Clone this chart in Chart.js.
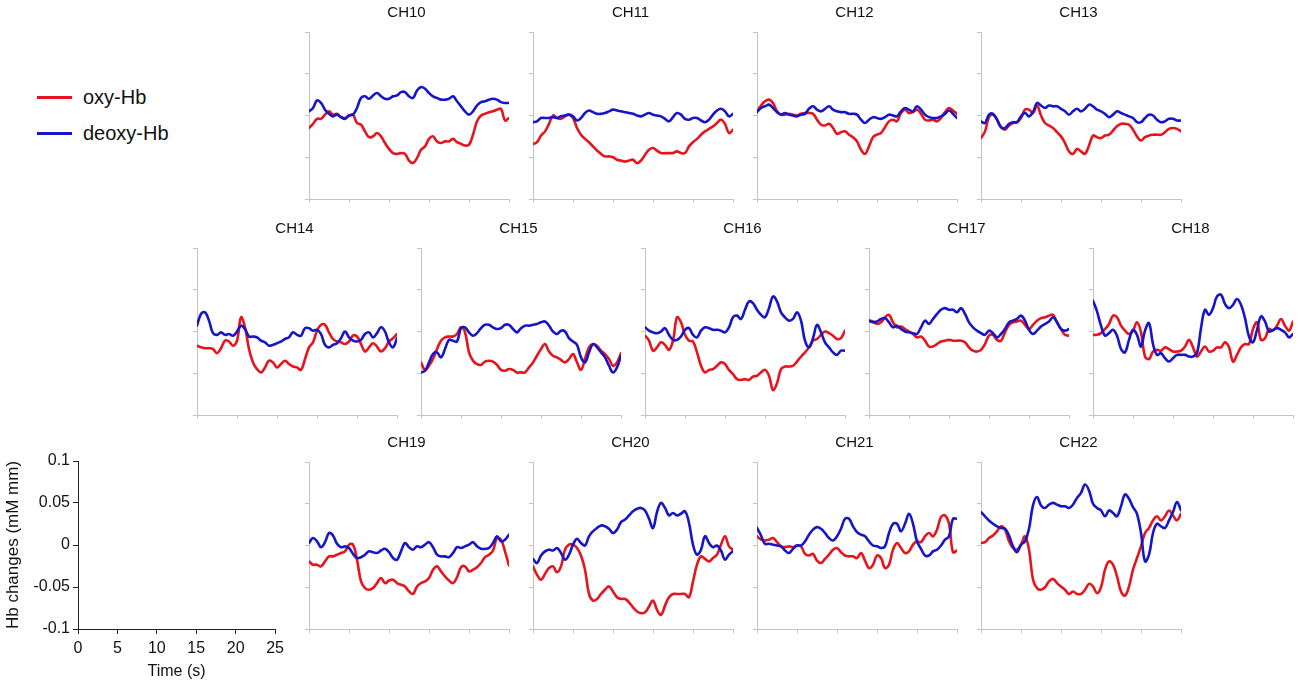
<!DOCTYPE html>
<html>
<head>
<meta charset="utf-8">
<title>Hb changes per channel</title>
<script src="https://cdn.jsdelivr.net/npm/chart.js@4.4.1/dist/chart.umd.min.js"></script>
<style>
  html, body { margin: 0; padding: 0; background: #fff; }
  body { position: relative; width: 1300px; height: 684px; overflow: hidden;
         font-family: "Liberation Sans", Arial, sans-serif; color: #111; }
  .panel { position: absolute; }
  .key { position: absolute; left: 37px; height: 22px; display: flex; align-items: center; font-size: 20px; }
  .swatch { display: inline-block; width: 35px; height: 3px; margin-right: 11px; }
</style>
</head>
<body>

<div class="key" style="top:86px"><span class="swatch" style="background:#e6141c"></span><span>oxy-Hb</span></div>
<div class="key" style="top:122px"><span class="swatch" style="background:#1616c8"></span><span>deoxy-Hb</span></div>

<script>
// time axis (s), sampled every 0.5 s
const time = [0, 0.5, 1, 1.5, 2, 2.5, 3, 3.5, 4, 4.5, 5, 5.5, 6, 6.5, 7, 7.5, 8, 8.5, 9, 9.5,
    10, 10.5, 11, 11.5, 12, 12.5, 13, 13.5, 14, 14.5, 15, 15.5, 16, 16.5, 17, 17.5, 18, 18.5, 19, 19.5,
    20, 20.5, 21, 21.5, 22, 22.5, 23, 23.5, 24, 24.5, 25];

const xTicks = [0, 5, 10, 15, 20, 25];
const yTicks = [-0.1, -0.05, 0, 0.05, 0.1];

// Hb changes (mM mm) per channel
const ch10Oxy = [-0.015,-0.010,-0.004,-0.004,0.001,0.005,0.001,0.002,-0.002,-0.003,
    0,0.001,-0.009,-0.011,-0.019,-0.026,-0.025,-0.021,-0.025,-0.033,
    -0.040,-0.045,-0.046,-0.045,-0.046,-0.054,-0.057,-0.051,-0.041,-0.037,
    -0.028,-0.025,-0.031,-0.033,-0.031,-0.031,-0.028,-0.032,-0.034,-0.036,
    -0.035,-0.023,-0.007,0,0.002,0.004,0.005,0.007,0.008,-0.006,-0.003];
const ch10Deoxy = [0.005,0.009,0.018,0.015,0.007,0.002,-0.001,0.001,-0.002,-0.004,
    0,0.001,0.009,0.021,0.023,0.020,0.024,0.027,0.023,0.020,
    0.020,0.023,0.024,0.028,0.028,0.023,0.021,0.030,0.034,0.032,
    0.027,0.023,0.021,0.019,0.019,0.020,0.023,0.017,0.011,0.005,
    0.001,0.005,0.012,0.016,0.017,0.019,0.020,0.019,0.016,0.015,0.015];

const ch11Oxy = [-0.034,-0.032,-0.024,-0.019,-0.010,0,-0.003,-0.004,-0.001,0.001,
    -0.003,-0.015,-0.023,-0.028,-0.032,-0.037,-0.042,-0.046,-0.049,-0.049,
    -0.050,-0.053,-0.054,-0.055,-0.054,-0.053,-0.057,-0.054,-0.047,-0.041,
    -0.039,-0.042,-0.045,-0.045,-0.045,-0.045,-0.043,-0.045,-0.045,-0.037,
    -0.032,-0.028,-0.023,-0.019,-0.016,-0.013,-0.009,-0.005,-0.010,-0.021,-0.017];
const ch11Deoxy = [-0.008,-0.007,-0.003,-0.003,-0.003,-0.002,-0.003,-0.001,0,0.001,
    -0.001,-0.006,-0.003,0.003,0.006,0.004,0.002,0.002,0.003,0.005,
    0.007,0.006,0.005,0.004,0.003,0.002,0,-0.001,0.001,0.003,
    0.001,0,-0.001,-0.004,-0.007,-0.002,0.003,0.001,-0.004,-0.005,
    -0.003,-0.003,-0.006,-0.008,-0.005,0.001,0.006,0.008,0.005,-0.001,0.002];

const ch12Oxy = [0.005,0.012,0.017,0.019,0.015,0.005,0.001,0.001,0.002,0.001,
    0,0.002,0.003,0.003,0.002,-0.005,-0.011,-0.012,-0.010,-0.015,
    -0.022,-0.020,-0.019,-0.023,-0.026,-0.031,-0.041,-0.046,-0.037,-0.026,
    -0.023,-0.021,-0.014,-0.007,-0.005,-0.007,0.003,0.007,0.003,0.004,
    0.007,0.002,-0.005,-0.006,-0.005,-0.007,-0.003,0.004,0.009,0.006,0.002];
const ch12Deoxy = [0.004,0.009,0.011,0.013,0.009,0.004,0.001,0.003,0.001,0,
    -0.001,0.001,0.002,0.008,0.011,0.007,0.005,0.008,0.011,0.007,
    0.005,0.004,0.004,0.002,0.002,0.001,-0.005,-0.009,-0.005,-0.002,
    -0.003,-0.004,-0.002,0.001,0,-0.001,0.005,0.009,0.007,0.005,
    0.011,0.007,0.001,-0.002,-0.003,-0.003,-0.001,0.002,0.006,0.002,-0.003];

const ch13Oxy = [-0.027,-0.019,-0.002,0.001,-0.005,-0.014,-0.017,-0.012,-0.009,-0.008,
    -0.003,0.007,0.007,0.003,0.012,0,-0.009,-0.012,-0.015,-0.020,
    -0.025,-0.033,-0.043,-0.046,-0.040,-0.043,-0.046,-0.036,-0.024,-0.026,
    -0.027,-0.024,-0.023,-0.018,-0.013,-0.010,-0.010,-0.011,-0.017,-0.025,
    -0.030,-0.026,-0.024,-0.023,-0.023,-0.023,-0.020,-0.016,-0.015,-0.016,-0.019];
const ch13Deoxy = [-0.007,-0.009,0.001,0.002,-0.005,-0.014,-0.015,-0.010,-0.008,-0.008,
    -0.001,0.003,-0.001,0.004,0.015,0.012,0.009,0.012,0.011,0.011,
    0.008,0.005,0.001,0.005,0.008,0.005,0.008,0.013,0.011,0.007,
    0.005,0.002,-0.002,0.001,0.005,0.003,0.001,-0.001,-0.003,-0.008,
    -0.008,-0.003,0.001,0,-0.005,-0.008,-0.007,-0.004,-0.004,-0.006,-0.006];

const ch14Oxy = [-0.017,-0.019,-0.020,-0.020,-0.021,-0.026,-0.020,-0.011,-0.012,-0.017,
    -0.011,0.017,0.005,-0.021,-0.037,-0.045,-0.049,-0.043,-0.035,-0.037,
    -0.043,-0.039,-0.035,-0.039,-0.042,-0.043,-0.046,-0.033,-0.019,-0.013,
    0.001,0.008,0.008,-0.001,-0.009,-0.012,-0.013,-0.015,-0.012,-0.005,
    -0.006,-0.015,-0.024,-0.019,-0.014,-0.018,-0.024,-0.020,-0.012,-0.008,-0.003];
const ch14Deoxy = [0.007,0.021,0.023,0.013,-0.002,-0.004,-0.001,-0.004,-0.003,-0.005,
    0,0.007,0.003,-0.006,-0.006,-0.007,-0.011,-0.013,-0.017,-0.016,
    -0.014,-0.012,-0.009,-0.007,-0.001,-0.004,-0.005,0.004,0.004,0.001,
    0.002,-0.003,-0.016,-0.019,-0.016,-0.014,-0.008,0,-0.007,-0.011,
    -0.012,-0.010,-0.003,-0.001,-0.007,-0.002,0.005,0,-0.013,-0.019,-0.008];

const ch15Oxy = [-0.037,-0.046,-0.041,-0.033,-0.021,-0.011,-0.007,-0.006,-0.006,-0.003,
    0.005,-0.001,-0.025,-0.035,-0.039,-0.040,-0.036,-0.035,-0.036,-0.040,
    -0.046,-0.047,-0.045,-0.046,-0.049,-0.049,-0.049,-0.043,-0.037,-0.029,
    -0.021,-0.015,-0.024,-0.029,-0.031,-0.034,-0.037,-0.033,-0.027,-0.037,
    -0.046,-0.033,-0.019,-0.015,-0.017,-0.023,-0.027,-0.033,-0.041,-0.037,-0.026];
const ch15Deoxy = [-0.049,-0.047,-0.037,-0.027,-0.025,-0.031,-0.021,-0.010,-0.011,-0.012,
    0.004,0.005,-0.001,-0.005,-0.002,0.004,0.008,0.008,0.005,0.003,
    0.004,0.008,0.008,0.003,-0.001,0.004,0.007,0.007,0.008,0.009,
    0.011,0.012,0.007,0,-0.003,0.001,0,-0.008,-0.012,-0.016,
    -0.031,-0.037,-0.025,-0.015,-0.019,-0.025,-0.031,-0.041,-0.049,-0.043,-0.029];

const ch16Oxy = [-0.005,-0.011,-0.023,-0.019,-0.013,-0.016,-0.022,-0.011,0.017,0.011,
    -0.004,-0.011,-0.012,-0.025,-0.041,-0.049,-0.046,-0.045,-0.041,-0.037,
    -0.039,-0.046,-0.051,-0.057,-0.058,-0.057,-0.058,-0.054,-0.053,-0.049,
    -0.046,-0.053,-0.070,-0.062,-0.045,-0.042,-0.042,-0.041,-0.036,-0.030,
    -0.025,-0.019,-0.011,-0.009,-0.004,0,-0.002,-0.005,-0.009,-0.008,0.001];
const ch16Deoxy = [0.005,0.001,-0.001,-0.002,0,0.004,-0.004,-0.010,-0.010,-0.006,
    0.002,0.004,-0.004,-0.007,0.001,0.005,0.004,0.002,0.002,0.001,
    -0.001,0.005,0.017,0.019,0.015,0.026,0.036,0.034,0.026,0.020,
    0.017,0.028,0.042,0.036,0.023,0.017,0.013,0.015,0.023,0.013,
    -0.011,-0.019,-0.008,0.008,-0.001,-0.013,-0.019,-0.025,-0.028,-0.023,-0.023];

const ch17Oxy = [0.013,0.012,0.009,0.011,0.017,0.020,0.011,0.005,0.006,0.003,
    0,-0.003,-0.007,-0.006,-0.011,-0.018,-0.018,-0.015,-0.012,-0.011,
    -0.010,-0.011,-0.011,-0.011,-0.013,-0.019,-0.023,-0.024,-0.022,-0.015,
    -0.005,-0.004,-0.010,-0.011,-0.001,0.008,0.011,0.012,0.013,0.008,
    0.003,0.008,0.013,0.016,0.017,0.019,0.020,0.011,0.003,-0.004,-0.005];
const ch17Deoxy = [0.013,0.011,0.012,0.015,0.016,0.011,0.005,0.007,0.003,0,
    -0.001,-0.002,-0.003,0.005,0.013,0.009,0.015,0.021,0.026,0.028,
    0.026,0.026,0.023,0.028,0.021,0.011,0.005,0.001,-0.002,-0.004,
    0.001,-0.002,-0.007,-0.003,0.003,0.011,0.013,0.015,0.019,0.013,
    0.002,-0.003,0.001,0.006,0.009,0.012,0.017,0.011,0.003,0.001,0.003];

const ch18Oxy = [-0.004,-0.004,-0.002,0.003,0.009,0.019,0.017,0.007,0.001,-0.003,
    0.001,0.011,-0.001,-0.030,-0.033,-0.024,-0.022,-0.023,-0.019,-0.021,
    -0.024,-0.024,-0.023,-0.018,-0.010,-0.019,-0.030,-0.024,-0.018,-0.024,
    -0.023,-0.019,-0.019,-0.013,-0.019,-0.036,-0.028,-0.019,-0.015,-0.015,
    0.003,0.011,-0.010,-0.008,0.003,0.001,0.007,0.015,0.007,0.001,0.012];
const ch18Deoxy = [0.037,0.024,0.007,-0.005,-0.002,0.002,-0.005,-0.021,-0.025,-0.010,
    0.002,-0.004,-0.018,0.001,0.010,-0.015,-0.028,-0.026,-0.032,-0.036,
    -0.032,-0.028,-0.028,-0.028,-0.030,-0.030,-0.026,0.004,0.026,0.020,
    0.028,0.042,0.044,0.033,0.028,0.032,0.039,0.032,0.016,-0.006,
    -0.013,0.002,0.018,0.012,0,0.002,0.004,0.002,-0.001,-0.007,-0.003];

const ch19Oxy = [-0.019,-0.023,-0.023,-0.025,-0.019,-0.013,-0.013,-0.011,-0.009,-0.007,
    0.001,0.001,-0.017,-0.043,-0.051,-0.053,-0.051,-0.045,-0.039,-0.045,
    -0.042,-0.041,-0.045,-0.047,-0.049,-0.055,-0.058,-0.049,-0.045,-0.043,
    -0.039,-0.029,-0.025,-0.031,-0.037,-0.042,-0.045,-0.038,-0.026,-0.025,
    -0.031,-0.029,-0.026,-0.021,-0.014,-0.011,-0.006,0.009,0.007,-0.007,-0.024];
const ch19Deoxy = [0.003,0.009,0.005,-0.002,0.004,0.015,0.012,0.002,-0.002,-0.001,
    -0.003,-0.010,-0.015,-0.014,-0.011,-0.007,-0.008,-0.009,-0.006,-0.004,
    -0.008,-0.015,-0.017,-0.007,0.003,-0.002,-0.005,-0.001,-0.002,0.001,
    0.004,-0.002,-0.011,-0.013,-0.013,-0.014,-0.009,-0.002,-0.003,-0.001,
    0.001,0.004,-0.001,-0.004,-0.004,-0.003,0.003,0.011,0.005,0.007,0.013];

const ch20Oxy = [-0.025,-0.035,-0.041,-0.034,-0.027,-0.025,-0.032,-0.025,-0.005,0.001,
    0.001,-0.003,-0.012,-0.029,-0.058,-0.066,-0.064,-0.058,-0.053,-0.049,
    -0.055,-0.062,-0.064,-0.064,-0.068,-0.074,-0.079,-0.081,-0.080,-0.073,
    -0.066,-0.077,-0.083,-0.072,-0.062,-0.058,-0.058,-0.058,-0.058,-0.062,
    -0.043,-0.023,-0.013,-0.016,-0.019,-0.015,-0.011,0.001,0.011,-0.001,-0.005];
const ch20Deoxy = [-0.016,-0.021,-0.012,-0.007,-0.005,-0.006,-0.003,-0.009,-0.017,-0.011,
    0.001,0.008,0.003,0,0.011,0.017,0.021,0.024,0.023,0.020,
    0.015,0.019,0.028,0.031,0.036,0.041,0.044,0.045,0.042,0.032,
    0.021,0.040,0.051,0.045,0.036,0.039,0.036,0.038,0.041,0.027,
    0.001,-0.011,-0.005,0.011,0.003,-0.002,0,-0.006,-0.017,-0.011,-0.007];

const ch21Oxy = [0.011,0.007,0.006,0.007,0.009,0.004,-0.001,-0.002,-0.001,-0.002,
    0,-0.001,-0.010,-0.012,-0.010,-0.018,-0.021,-0.016,-0.011,-0.005,
    -0.003,-0.008,-0.012,-0.013,-0.013,-0.015,-0.009,-0.018,-0.027,-0.023,
    -0.012,-0.015,-0.027,-0.023,-0.005,0.003,-0.003,-0.009,-0.007,0.001,
    0.005,0.004,0.011,0.015,0.011,0.019,0.034,0.036,0.026,-0.008,-0.006];
const ch21Deoxy = [0.021,0.012,0.002,0.002,0.001,0,-0.001,-0.006,-0.009,-0.004,
    0,0,0.005,0.013,0.019,0.022,0.020,0.015,0.009,0.006,
    0.011,0.020,0.032,0.032,0.023,0.016,0.013,0.011,0.005,0,
    -0.001,-0.003,-0.001,0.015,0.026,0.026,0.017,0.026,0.038,0.026,
    0.005,-0.004,-0.012,-0.012,-0.007,-0.005,0,0.007,0.011,0.032,0.032];

const ch22Oxy = [0.003,0.004,0.009,0.012,0.017,0.023,0.019,0.005,-0.003,-0.005,
    0.001,0.011,-0.005,-0.041,-0.051,-0.053,-0.050,-0.043,-0.040,-0.045,
    -0.049,-0.053,-0.058,-0.055,-0.058,-0.058,-0.053,-0.046,-0.049,-0.057,
    -0.050,-0.029,-0.019,-0.023,-0.037,-0.055,-0.060,-0.049,-0.029,-0.015,
    -0.001,0.015,0.021,0.030,0.035,0.030,0.035,0.042,0.036,0.030,0.038];
const ch22Deoxy = [0.040,0.035,0.030,0.026,0.023,0.021,0.020,0.012,-0.001,-0.008,
    0.001,0.005,0.020,0.048,0.058,0.048,0.045,0.049,0.051,0.049,
    0.047,0.047,0.045,0.049,0.057,0.063,0.073,0.066,0.050,0.045,
    0.042,0.035,0.042,0.039,0.035,0.047,0.061,0.056,0.046,0.038,
    0.015,-0.019,-0.011,0.015,0.026,0.023,0.021,0.030,0.040,0.052,0.042];

const OXY_COLOR = '#e6141c';
const DEOXY_COLOR = '#1616c8';
const AXIS_GRAY = '#c4c4c4';

Chart.defaults.font.family = '"Liberation Sans", Arial, sans-serif';
Chart.defaults.color = '#111';

// panel sizes (px) -- plot area is 200 x 167 for every channel
const PLOT_W = 200;
const PLOT_H = 167;
const AXIS_GAP = 5;      // room for the small tick marks
const TITLE_BLOCK = 28;  // title line + gap above the plot
const TITLE_SIZE = 15;
const RIGHT_PAD = 3;

// where each channel's plot area sits on the page: [name, oxy, deoxy, left, top]
const panelSlots = [
    ['CH10', ch10Oxy, ch10Deoxy, 309, 32],
    ['CH11', ch11Oxy, ch11Deoxy, 533, 32],
    ['CH12', ch12Oxy, ch12Deoxy, 757, 32],
    ['CH13', ch13Oxy, ch13Deoxy, 981, 32],
    ['CH14', ch14Oxy, ch14Deoxy, 197, 248],
    ['CH15', ch15Oxy, ch15Deoxy, 421, 248],
    ['CH16', ch16Oxy, ch16Deoxy, 645, 248],
    ['CH17', ch17Oxy, ch17Deoxy, 869, 248],
    ['CH18', ch18Oxy, ch18Deoxy, 1093, 248],
    ['CH19', ch19Oxy, ch19Deoxy, 309, 462],
    ['CH20', ch20Oxy, ch20Deoxy, 533, 462],
    ['CH21', ch21Oxy, ch21Deoxy, 757, 462],
    ['CH22', ch22Oxy, ch22Deoxy, 981, 462]
];

function addBox(left, top, width, height) {
    const box = document.createElement('div');
    box.className = 'panel';
    box.style.left = left + 'px';
    box.style.top = top + 'px';
    box.style.width = width + 'px';
    box.style.height = height + 'px';
    const canvas = document.createElement('canvas');
    box.appendChild(canvas);
    document.body.appendChild(box);
    return canvas;
}

function toPoints(values) {
    return time.map((t, i) => ({ x: t, y: values[i] }));
}

function lineDataset(label, values, color, order) {
    return {
        label: label,
        data: toPoints(values),
        borderColor: color,
        backgroundColor: color,
        borderWidth: 2.6,
        pointRadius: 0,
        tension: 0.4,
        fill: false,
        borderCapStyle: 'round',
        borderJoinStyle: 'round',
        order: order
    };
}

// tick lists come from xTicks / yTicks
function fixedTicks(list) {
    return scale => { scale.ticks = list.map(v => ({ value: v })); };
}

function drawChannel(name, oxy, deoxy, plotLeft, plotTop) {
    const canvas = addBox(plotLeft - AXIS_GAP, plotTop - TITLE_BLOCK,
        AXIS_GAP + PLOT_W + RIGHT_PAD, TITLE_BLOCK + PLOT_H + AXIS_GAP);

    new Chart(canvas, {
        type: 'line',
        data: {
            datasets: [
                lineDataset('oxy-Hb', oxy, OXY_COLOR, 1),
                lineDataset('deoxy-Hb', deoxy, DEOXY_COLOR, 0)
            ]
        },
        options: {
            animation: false,
            responsive: true,
            maintainAspectRatio: false,
            events: [],
            layout: { padding: { top: 0, left: 0, bottom: 0, right: RIGHT_PAD } },
            plugins: {
                legend: { display: false },
                tooltip: { enabled: false },
                title: {
                    display: true,
                    text: name,
                    color: '#111',
                    font: { size: TITLE_SIZE, weight: 'normal' },
                    padding: { top: 0, bottom: TITLE_BLOCK - TITLE_SIZE * 1.2 }
                }
            },
            scales: {
                x: {
                    type: 'linear',
                    min: 0,
                    max: 25,
                    afterBuildTicks: fixedTicks(xTicks),
                    ticks: { display: false },
                    grid: { drawOnChartArea: false, tickLength: 4, color: AXIS_GRAY },
                    border: { display: true, color: AXIS_GRAY, width: 1 },
                    afterFit: scale => { scale.height = AXIS_GAP; }
                },
                y: {
                    type: 'linear',
                    min: -0.1,
                    max: 0.1,
                    afterBuildTicks: fixedTicks(yTicks),
                    ticks: { display: false },
                    grid: { drawOnChartArea: false, tickLength: 4, color: AXIS_GRAY },
                    border: { display: true, color: AXIS_GRAY, width: 1 },
                    afterFit: scale => { scale.width = AXIS_GAP; }
                }
            }
        }
    });
}

panelSlots.forEach(slot => drawChannel(...slot));

// the reference axes in the lower left corner
function drawScaleKey() {
    const canvas = addBox(0, 440, 289, 244);
    new Chart(canvas, {
        type: 'line',
        data: { datasets: [] },
        options: {
            animation: false,
            responsive: true,
            maintainAspectRatio: false,
            events: [],
            layout: { padding: { top: 21, right: 12, left: 0, bottom: 0 } },
            plugins: { legend: { display: false }, tooltip: { enabled: false } },
            scales: {
                x: {
                    type: 'linear',
                    min: 0,
                    max: 25,
                    afterBuildTicks: fixedTicks(xTicks),
                    ticks: { color: '#111', font: { size: 16 }, padding: 5, maxRotation: 0,
                             callback: v => String(v) },
                    grid: { drawOnChartArea: false, tickLength: 5, color: '#222' },
                    border: { display: true, color: '#222', width: 1 },
                    title: { display: true, text: 'Time (s)', color: '#111', font: { size: 16 },
                             padding: { top: 0, bottom: 3 } },
                    afterFit: scale => { scale.height = 55; }
                },
                y: {
                    type: 'linear',
                    min: -0.1,
                    max: 0.1,
                    afterBuildTicks: fixedTicks(yTicks),
                    ticks: { color: '#111', font: { size: 16 }, padding: 3,
                             callback: v => String(Math.round(v * 100) / 100) },
                    grid: { drawOnChartArea: false, tickLength: 5, color: '#222' },
                    border: { display: true, color: '#222', width: 1 },
                    title: { display: true, text: 'Hb changes (mM mm)', color: '#111',
                             font: { size: 17 }, padding: { top: 3, bottom: 0 } },
                    afterFit: scale => { scale.width = 78; }
                }
            }
        }
    });
}

drawScaleKey();
</script>
</body>
</html>
